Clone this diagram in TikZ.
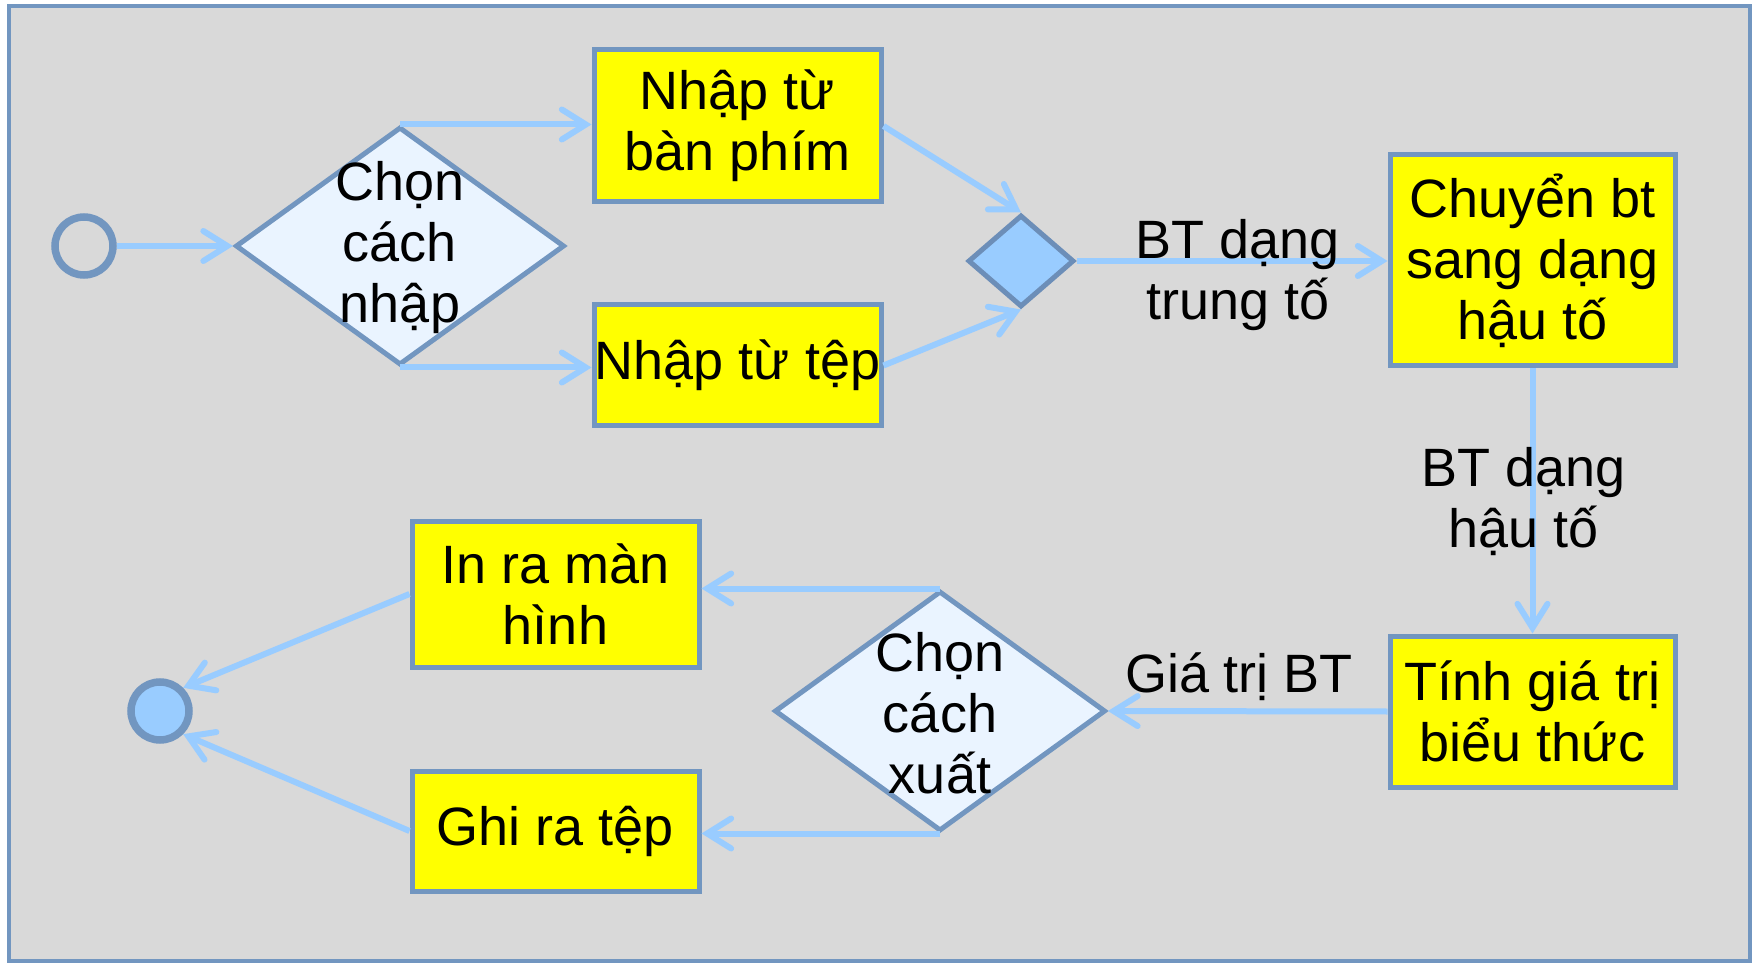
\documentclass[tikz,border=0pt]{standalone}
\usepackage{fontspec}
\setmainfont{Liberation Sans}
\usetikzlibrary{shapes.geometric,arrows.meta}
\definecolor{bgc}{RGB}{217,217,217}
\definecolor{edgec}{RGB}{114,150,192}
\definecolor{arrc}{RGB}{153,204,255}
\definecolor{dfill}{RGB}{234,244,255}
\definecolor{ylw}{RGB}{255,255,0}
\definecolor{sdedge}{RGB}{108,142,184}
\begin{document}
\begin{tikzpicture}[x=1pt,y=-1pt,
  txt/.style={font=\fontsize{54}{61}\selectfont,align=center,inner sep=0pt,text=black},
  box/.style={txt,draw=edgec,line width=5pt,fill=ylw,rectangle},
  dec/.style={draw=edgec,line width=5pt,fill=dfill,diamond,inner sep=0pt},
  flow/.style={draw=arrc,line width=6pt,-{Straight Barb[length=24pt,width=30pt,line cap=round]}},
  lbl/.style={txt}]
\useasboundingbox (0,0) rectangle (1757,965);
\draw[edgec,line width=4pt,fill=bgc] (9,6) rectangle (1750,961);
% nodes
\node[circle,draw=edgec,line width=7.5pt,fill=bgc,minimum size=58pt,inner sep=0pt] (start) at (84,246) {};
\node[dec,minimum width=329pt,minimum height=238pt] (d1) at (400,246) {};
\node[txt] (d1t) at (400,248) {Chọn\\cách\\nhập};
\node[box,minimum width=287pt,minimum height=152pt] (b1) at (737.5,126) {Nhập từ\\bàn phím};
\node[box,minimum width=287pt,minimum height=121pt] (b2) at (737.5,365.5) {Nhập từ tệp};
\node[diamond,draw=sdedge,line width=5pt,fill=arrc,minimum width=106pt,minimum height=92pt,inner sep=0pt] (sd) at (1021,261) {};
\node[box,minimum width=285pt,minimum height=211pt] (b3) at (1532.5,260.5) {Chuyển bt\\sang dạng\\hậu tố};
\node[box,minimum width=285pt,minimum height=151pt] (b4) at (1532.5,711.5) {Tính giá trị\\biểu thức};
\node[dec,minimum width=331pt,minimum height=240pt] (d2) at (940,711) {};
\node[txt] (d2t) at (940,713) {Chọn\\cách\\xuất};
\node[box,minimum width=287pt,minimum height=146pt] (b5) at (555.5,594) {In ra màn\\hình};
\node[box,minimum width=287pt,minimum height=120pt] (b6) at (555.5,831) {Ghi ra tệp};
\node[circle,draw=edgec,line width=7.5pt,fill=arrc,minimum size=58pt,inner sep=0pt] (endc) at (160,711) {};
% connectors
\draw[flow] (start) -- (d1.west);
\draw[flow] (d1.north) -- (b1.west |- d1.north);
\draw[flow] (d1.south) -- (b2.west |- d1.south);
\draw[flow] (b1.east) -- (sd.north);
\draw[flow] (b2.east) -- (sd.south);
\draw[flow] (sd.east) -- (b3.west |- sd.east);
\node[lbl] (l1) at (1238,275) {BT dạng\\trung tố};
\draw[flow] (b3.south) -- (b4.north);
\node[lbl] (l2) at (1524,502) {BT dạng\\hậu tố};
\draw[flow] (b4.west) -- (d2.east);
\node[lbl] (l3) at (1239,677) {Giá trị BT};
\draw[flow] (d2.north) -- (b5.east |- d2.north);
\draw[flow] (d2.south) -- (b6.east |- d2.south);
\draw[flow] (b5.west) -- (endc.45);
\draw[flow] (b6.west) -- (endc.-45);
\end{tikzpicture}
\end{document}
